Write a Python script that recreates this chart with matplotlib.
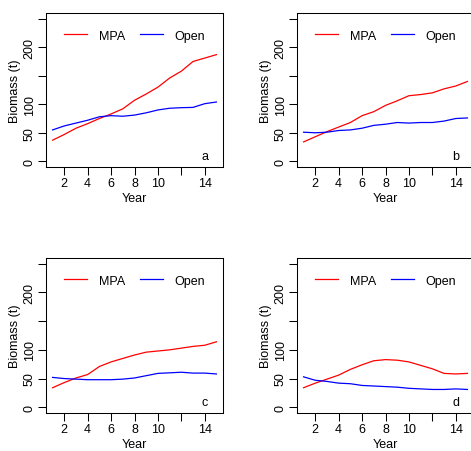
import numpy as np
import matplotlib.pyplot as plt

plt.rcParams['font.family'] = ['Liberation Sans', 'DejaVu Sans']

# Data
years = np.arange(1, 16)

mpa_a = [37, 47, 58, 66, 75, 83, 92, 107, 118, 130, 146, 158, 175, 181, 187]
open_a = [55, 62, 67, 72, 78, 80, 79, 81, 85, 90, 93, 94, 94.5, 101, 104]

mpa_b = [34, 43, 52, 60, 68, 80, 87, 98, 106, 115, 117, 120, 127, 132, 140]
open_b = [51, 50, 51, 54, 55, 58, 63, 65, 68, 67, 68, 68, 70.5, 75, 76]

mpa_c = [34, 43, 51, 57, 71, 79, 85, 91, 96, 98, 100, 103, 106, 108, 114]
open_c = [52, 50, 49, 48, 48, 48, 49, 51, 55, 59, 60, 61, 59.5, 59.5, 58]

mpa_d = [34, 42, 49, 56, 66, 74, 81, 83, 82, 79, 73, 67, 59, 58, 59]
open_d = [53, 47, 45, 42, 41, 38, 37, 36, 35, 33, 32, 31, 31, 32, 31]

panels = [
    ('a', mpa_a, open_a),
    ('b', mpa_b, open_b),
    ('c', mpa_c, open_c),
    ('d', mpa_d, open_d),
]

xticks = [2, 4, 6, 8, 10, 12, 14]
xticklabels = ['2', '4', '6', '8', '10', '', '14']
yticks = [0, 50, 100, 150, 200, 250]
yticklabels = ['0', '50', '100', '', '200', '']

W, H = 471, 452
fig = plt.figure(figsize=(W / 100, H / 100), dpi=100)

# axes boxes in pixel coords: (left, top, right, bottom)
boxes = [
    (46, 14, 223, 168),
    (297, 14, 474, 168),
    (46, 259, 223, 414),
    (297, 259, 474, 414),
]

for (letter, mpa, opn), (l, t, r, b) in zip(panels, boxes):
    ax = fig.add_axes([l / W, (H - b) / H, (r - l) / W, (b - t) / H])
    ax.plot(years, mpa, color='#ff0000', lw=0.9, label='MPA')
    ax.plot(years, opn, color='#0000ff', lw=0.9, label='Open')
    ax.set_xlim(0.44, 15.56)
    ax.set_ylim(-10, 260)
    ax.set_xticks(xticks)
    ax.set_xticklabels(xticklabels)
    ax.set_yticks(yticks)
    ax.set_yticklabels(yticklabels, rotation=90, va='center')
    ax.tick_params(direction='out', length=5.5, width=0.75, labelsize=9,
                   pad=2)
    for s in ax.spines.values():
        s.set_linewidth(0.75)
    ax.set_xlabel('Year', fontsize=9)
    ax.set_ylabel('Biomass (t)', fontsize=9)
    ax.xaxis.set_label_coords(0.5, -0.2)
    ax.yaxis.set_label_coords(-0.175, 0.5)
    ax.xaxis.label.set_va('center')
    ax.yaxis.label.set_va('center')
    ax.text(14, 10, letter, fontsize=9, ha='center', va='center')
    ax.legend(loc='upper center', bbox_to_anchor=(0.5, 0.965), ncol=2,
              frameon=False, fontsize=9, handlelength=1.85,
              handletextpad=0.9, columnspacing=1.2)

fig.savefig('out.png', dpi=100)
